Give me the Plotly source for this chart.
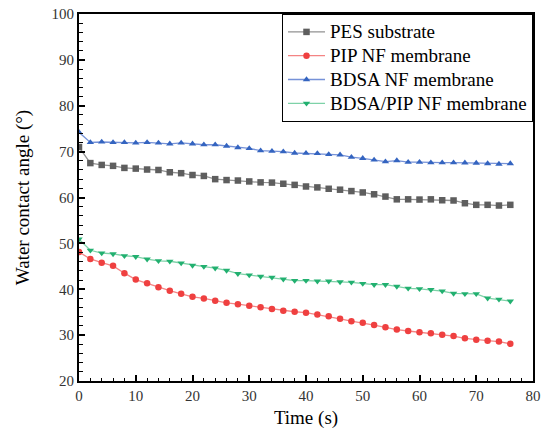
import plotly.graph_objects as go

time_s = list(range(0, 78, 2))

pes = [71.0, 67.5, 67.1, 66.9, 66.45, 66.3, 66.1, 66.0, 65.5, 65.3, 64.9, 64.7, 64.0, 63.8, 63.7, 63.5, 63.3, 63.25, 63.0, 62.75,
       62.4, 62.2, 61.9, 61.7, 61.4, 61.1, 60.7, 60.2, 59.6, 59.6, 59.55, 59.6, 59.4, 59.35, 58.75, 58.4, 58.4, 58.25, 58.4]
pip = [48.1, 46.6, 45.8, 45.1, 43.5, 42.1, 41.3, 40.45, 39.7, 39.0, 38.35, 38.0, 37.5, 37.04, 36.75, 36.4, 36.1, 35.7, 35.3, 35.1,
       34.9, 34.5, 34.1, 33.55, 33.05, 32.7, 32.2, 31.7, 31.2, 30.9, 30.65, 30.4, 30.1, 29.8, 29.3, 29.0, 28.8, 28.6, 28.1]
bdsa = [74.2, 72.0, 72.1, 72.0, 72.0, 71.9, 72.0, 71.9, 71.7, 71.9, 71.7, 71.5, 71.5, 71.2, 70.9, 70.7, 70.2, 70.1, 70.0, 69.7,
        69.65, 69.6, 69.4, 69.3, 68.8, 68.55, 68.2, 67.8, 68.05, 67.7, 67.7, 67.6, 67.6, 67.6, 67.55, 67.5, 67.4, 67.3, 67.4]
bdsa_pip = [50.9, 48.5, 47.9, 47.7, 47.3, 47.1, 46.55, 46.2, 46.1, 45.7, 45.2, 44.95, 44.6, 44.1, 43.4, 43.1, 42.8, 42.6, 42.2, 41.9,
            41.9, 41.75, 41.75, 41.6, 41.5, 41.25, 41.0, 41.0, 40.6, 40.2, 40.1, 39.9, 39.6, 39.1, 39.0, 39.0, 38.05, 37.8, 37.4]

series = [
    ("PES substrate", pes, "square", "#5e5e5e", "rgba(110,110,110,0.75)"),
    ("PIP NF membrane", pip, "circle", "#ef4040", "rgba(240,80,80,0.7)"),
    ("BDSA NF membrane", bdsa, "triangle-up", "#3464c0", "rgba(60,100,200,0.7)"),
    ("BDSA/PIP NF membrane", bdsa_pip, "triangle-down", "#22b070", "rgba(40,180,110,0.6)"),
]

font = "Liberation Serif"
fig = go.Figure()
for name, vals, sym, mc, lc in series:
    fig.add_trace(go.Scatter(
        x=time_s, y=vals, name=f'<span style="font-size:19px">{name}</span>', mode="lines+markers",
        marker=dict(symbol=sym, size=6.5, color=mc),
        line=dict(color=lc, width=1.3),
    ))

axis_common = dict(
    showline=True, linecolor="black", linewidth=2, mirror=True,
    ticks="inside", ticklen=6, tickwidth=1.5, tickcolor="black",
    showgrid=False, zeroline=False, automargin=False,
    tickfont=dict(family=font, size=15, color="#333333"),
    minor=dict(ticks="inside", ticklen=3.5, tickwidth=1.2, tickcolor="black"),
)
fig.update_xaxes(range=[0, 80], dtick=10, title=dict(text="Time (s)", font=dict(family=font, size=19, color="black"), standoff=8),
                 **axis_common)
fig.update_yaxes(range=[20, 100], dtick=10, title=dict(text="Water contact angle (°)", font=dict(family=font, size=19, color="black"), standoff=17),
                 **axis_common)
fig.update_layout(
    width=541, height=431,
    margin=dict(l=79, r=8, t=14, b=50),
    plot_bgcolor="white", paper_bgcolor="white",
    font=dict(family=font),
    legend=dict(x=1, y=1, xanchor="right", yanchor="top",
                bordercolor="black", borderwidth=1, bgcolor="white",
                font=dict(family=font, size=16, color="black"),
                itemwidth=37, tracegroupgap=0),
    showlegend=True,
)
fig.write_html("out.html")
